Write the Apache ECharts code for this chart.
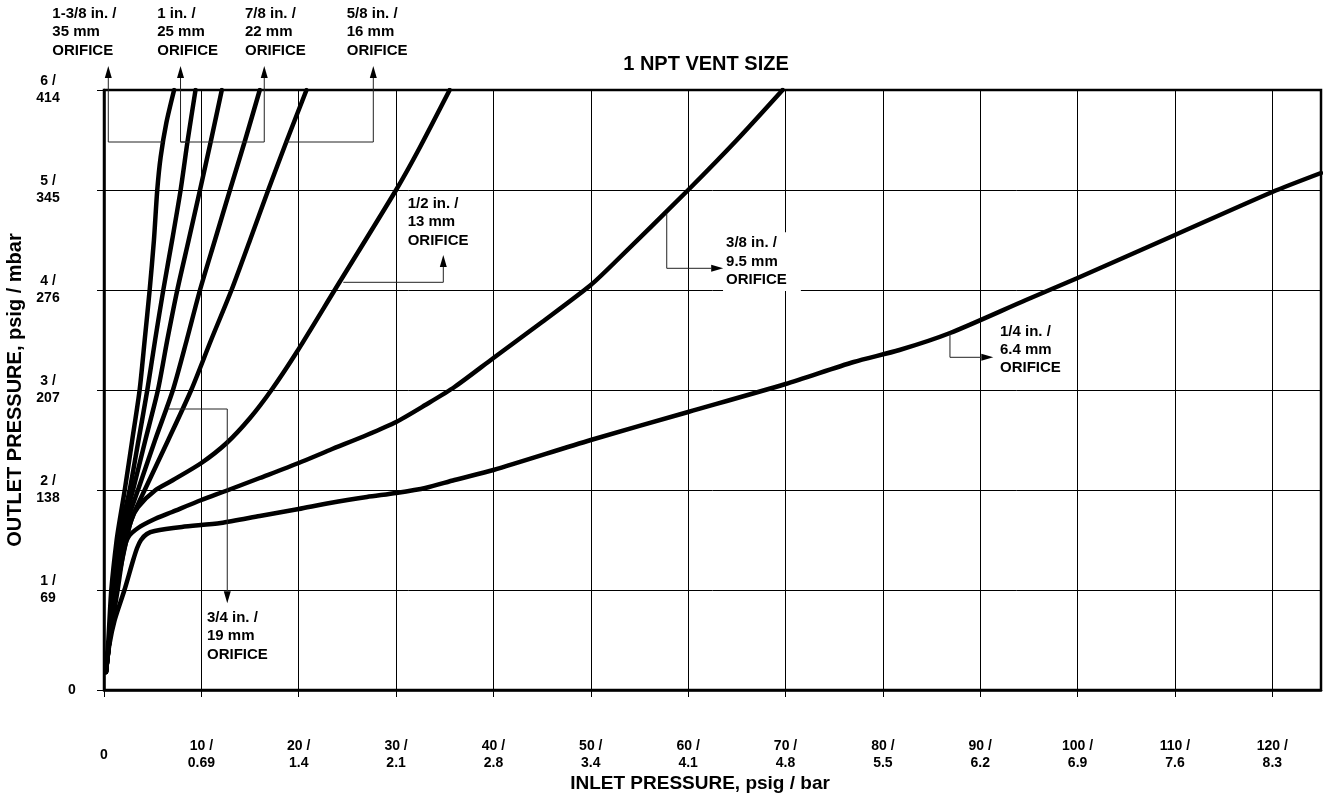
<!DOCTYPE html>
<html><head><meta charset="utf-8">
<script src="https://cdn.jsdelivr.net/npm/echarts@6/dist/echarts.min.js"></script>
<style>html,body{margin:0;padding:0;background:#fff}#c{width:1323px;height:794px}</style>
</head><body><div id="c"></div>
<script>
// ---- tick labels ----
const xTickPsig = [0,10,20,30,40,50,60,70,80,90,100,110,120];
const xTickBar  = ['','0.69','1.4','2.1','2.8','3.4','4.1','4.8','5.5','6.2','6.9','7.6','8.3'];
const yTickPsig = [0,1,2,3,4,5,6];
const yTickMbar = ['','69','138','207','276','345','414'];

// ---- curves: [inlet psig, outlet psig] ----
const orifice35mm = [[0.2,0.18],[0.45,0.5],[0.75,1.0],[1.3,1.5],[1.7,1.75],[2.13,2.0],[2.9,2.5],[3.66,3.0],[4.18,3.5],[4.69,4.0],[5.13,4.5],[5.47,5.0],[5.82,5.33],[6.4,5.67],[7.2,6.0]];
const orifice25mm = [[0.2,0.18],[0.5,0.45],[0.85,1.0],[1.55,1.5],[2.05,1.75],[2.64,2.0],[3.55,2.5],[4.45,3.0],[5.25,3.5],[6.09,4.0],[7.0,4.5],[7.87,5.0],[8.6,5.5],[9.4,6.0]];
const orifice22mm = [[0.2,0.18],[0.5,0.45],[0.95,1.0],[1.75,1.5],[2.3,1.75],[2.98,2.0],[4.25,2.5],[5.54,3.0],[6.5,3.5],[7.53,4.0],[8.7,4.5],[9.86,5.0],[11.0,5.5],[12.1,6.0]];
const orifice19mm = [[0.2,0.18],[0.5,0.45],[1.05,1.0],[1.9,1.5],[2.6,1.75],[3.49,2.0],[5.25,2.5],[7.08,3.0],[8.5,3.5],[9.86,4.0],[11.4,4.5],[12.94,5.0],[14.5,5.5],[16.0,6.0]];
const orifice16mm = [[0.2,0.18],[0.5,0.45],[1.15,1.0],[2.2,1.5],[3.0,1.75],[4.18,2.0],[6.6,2.5],[8.96,3.0],[11.0,3.5],[13.1,4.0],[15.0,4.5],[16.87,5.0],[18.8,5.5],[20.8,6.0]];
const orifice13mm = [[0.2,0.18],[0.5,0.45],[1.25,1.0],[2.3,1.5],[2.8,1.7],[3.5,1.83],[5.3,2.0],[7.1,2.1],[10,2.27],[12.6,2.47],[15,2.72],[17.2,3.0],[19.8,3.38],[23.7,4.0],[30,5.0],[32.3,5.4],[35.5,6.0]];
const orifice9_5mm = [[0.2,0.18],[0.5,0.45],[1.4,1.0],[2.0,1.38],[2.5,1.53],[3.5,1.62],[5,1.7],[7,1.78],[10,1.9],[12.5,1.99],[16,2.12],[20,2.27],[23.2,2.4],[27,2.55],[30,2.68],[33,2.85],[36,3.03],[40,3.32],[45,3.68],[50,4.05],[52.5,4.28],[60,5.0],[65,5.5],[69.7,6.0]];
const orifice6_4mm = [[0.2,0.18],[0.55,0.45],[1.1,0.7],[2.1,1.0],[3.0,1.3],[3.4,1.42],[3.8,1.5],[4.4,1.56],[5.2,1.59],[8,1.63],[12,1.67],[16,1.74],[20,1.81],[23.2,1.87],[27,1.93],[30,1.97],[33,2.02],[36,2.1],[40,2.2],[50,2.5],[60,2.78],[70,3.06],[77,3.28],[81.7,3.40],[86.9,3.57],[94.7,3.9],[100,4.12],[110,4.55],[120,4.98],[125,5.17]];

const seriesNames = ['1-3/8 in. / 35 mm','1 in. / 25 mm','7/8 in. / 22 mm','3/4 in. / 19 mm','5/8 in. / 16 mm','1/2 in. / 13 mm','3/8 in. / 9.5 mm','1/4 in. / 6.4 mm'];
const seriesData = [orifice35mm, orifice25mm, orifice22mm, orifice19mm, orifice16mm, orifice13mm, orifice9_5mm, orifice6_4mm];

// ---- annotation labels (anchors in psig units) ----
const labelLines = [
  ['1-3/8 in. /','35 mm','ORIFICE'],
  ['1 in. /','25 mm','ORIFICE'],
  ['7/8 in. /','22 mm','ORIFICE'],
  ['5/8 in. /','16 mm','ORIFICE'],
  ['1/2 in. /','13 mm','ORIFICE'],
  ['3/8 in. /','9.5 mm','ORIFICE'],
  ['1/4 in. /','6.4 mm','ORIFICE'],
  ['3/4 in. /','19 mm','ORIFICE']
];
const labelAnchors = [[-5.31,6.76],[5.47,6.76],[14.48,6.76],[24.93,6.76],[31.19,4.86],[63.89,4.467],[92.03,3.583],[10.58,0.72]];
const leaderPaths = [
  [[0.44,6.24],[0.44,5.48],[6.06,5.48]],
  [[7.86,6.24],[7.86,5.48],[8.5,5.48]],
  [[16.46,6.24],[16.46,5.48],[7.86,5.48]],
  [[27.66,6.24],[27.66,5.48],[18.7,5.48]],
  [[34.85,4.35],[34.85,4.077],[24.58,4.077]],
  [[63.6,4.217],[57.8,4.217],[57.8,4.767]],
  [[91.34,3.327],[86.89,3.327],[86.89,3.567]],
  [[12.66,0.867],[12.66,2.81],[6.6,2.81]]
];
const boxedLabel = [false,false,false,false,false,true,false,false];

const NARROW = '"Liberation Sans Narrow","Arial Narrow","Liberation Sans",Arial,sans-serif';
const SANS = '"Liberation Sans",Arial,Helvetica,sans-serif';

const chart = echarts.init(document.getElementById('c'));
chart.setOption({
  animation: false,
  backgroundColor: '#fff',
  grid: {left: 104, top: 90, right: 2, bottom: 104, show: true, borderColor: '#000', borderWidth: 2.5},
  xAxis: {
    type: 'value', min: 0, max: 125, interval: 10,
    axisLine: {show: true, onZero: false, lineStyle: {color: '#000', width: 2.5}},
    axisTick: {show: true, length: 7, lineStyle: {color: '#000', width: 1}},
    splitLine: {show: true, lineStyle: {color: '#000', width: 1}},
    axisLabel: {
      showMaxLabel: false, margin: 65, verticalAlign: 'middle', lineHeight: 17,
      fontFamily: NARROW, fontWeight: 'bold', fontSize: 14, color: '#000',
      formatter: function (v) {
        const i = xTickPsig.indexOf(v);
        if (i < 0) return '';
        return xTickBar[i] ? v + ' /\n' + xTickBar[i] : String(v);
      }
    }
  },
  yAxis: {
    type: 'value', min: 0, max: 6, interval: 1,
    axisLine: {show: true, onZero: false, lineStyle: {color: '#000', width: 2.5}},
    axisTick: {show: true, length: 7, lineStyle: {color: '#000', width: 1}},
    splitLine: {show: true, lineStyle: {color: '#000', width: 1}},
    axisLabel: {
      margin: 56, align: 'center', lineHeight: 17,
      fontFamily: NARROW, fontWeight: 'bold', fontSize: 14, color: '#000',
      formatter: function (v) {
        const i = yTickPsig.indexOf(v);
        if (i < 0) return '';
        return yTickMbar[i] ? v + ' /\n' + yTickMbar[i] : '{z|' + v + '}';
      },
      rich: {z: {padding: [0, 0, 0, 48], fontFamily: NARROW, fontWeight: 'bold', fontSize: 14, color: '#000'}}
    }
  },
  series: seriesData.map((d, i) => ({
    type: 'line', name: seriesNames[i], data: d,
    smooth: 0.25, symbol: 'none', z: 3,
    lineStyle: {color: '#000', width: 4.5, cap: 'round', join: 'round'}
  }))
});

// ---- annotations placed through the axes ----
const toPx = p => chart.convertToPixel({gridIndex: 0}, p);
const graphics = [];
const LH = 18.3;
labelLines.forEach((lines, i) => {
  const a = toPx(labelAnchors[i]);
  const st = {
    text: lines.join('\n'), x: a[0], y: a[1] - LH / 2, fill: '#000',
    font: 'bold 15px ' + SANS, lineHeight: LH, textAlign: 'left', textVerticalAlign: 'top'
  };
  if (boxedLabel[i]) { st.backgroundColor = '#fff'; st.padding = [2, 14, 2, 3]; st.x = a[0] - 3; st.y = a[1] - LH / 2 - 2; }
  graphics.push({type: 'text', z: 20, style: st});
  const pts = leaderPaths[i].map(toPx);
  const p0 = pts[0], p1 = pts[1];
  let dx = p0[0] - p1[0], dy = p0[1] - p1[1];
  const len = Math.hypot(dx, dy); dx /= len; dy /= len;
  const L = 12, W = 3.5;
  const base = [p0[0] - dx * L, p0[1] - dy * L];
  graphics.push({type: 'polyline', z: 21, shape: {points: [base].concat(pts.slice(1))}, style: {stroke: '#222', lineWidth: 1, fill: null}});
  graphics.push({type: 'polygon', z: 21, shape: {points: [p0, [base[0] - dy * W, base[1] + dx * W], [base[0] + dy * W, base[1] - dx * W]]}, style: {fill: '#000'}});
});
graphics.push({type: 'text', z: 20, style: {text: '1 NPT VENT SIZE', x: 706, y: 64, textAlign: 'center', textVerticalAlign: 'middle', font: 'bold 20px ' + SANS, fill: '#000'}});
graphics.push({type: 'text', z: 20, style: {text: 'INLET PRESSURE, psig / bar', x: 700, y: 784, textAlign: 'center', textVerticalAlign: 'middle', font: 'bold 19px ' + NARROW, fill: '#000'}});
graphics.push({type: 'text', z: 20, rotation: Math.PI / 2, x: 15, y: 390, style: {text: 'OUTLET PRESSURE, psig / mbar', x: 0, y: 0, textAlign: 'center', textVerticalAlign: 'middle', font: 'bold 20px ' + NARROW, fill: '#000'}});
chart.setOption({graphic: graphics});
</script>
</body></html>
